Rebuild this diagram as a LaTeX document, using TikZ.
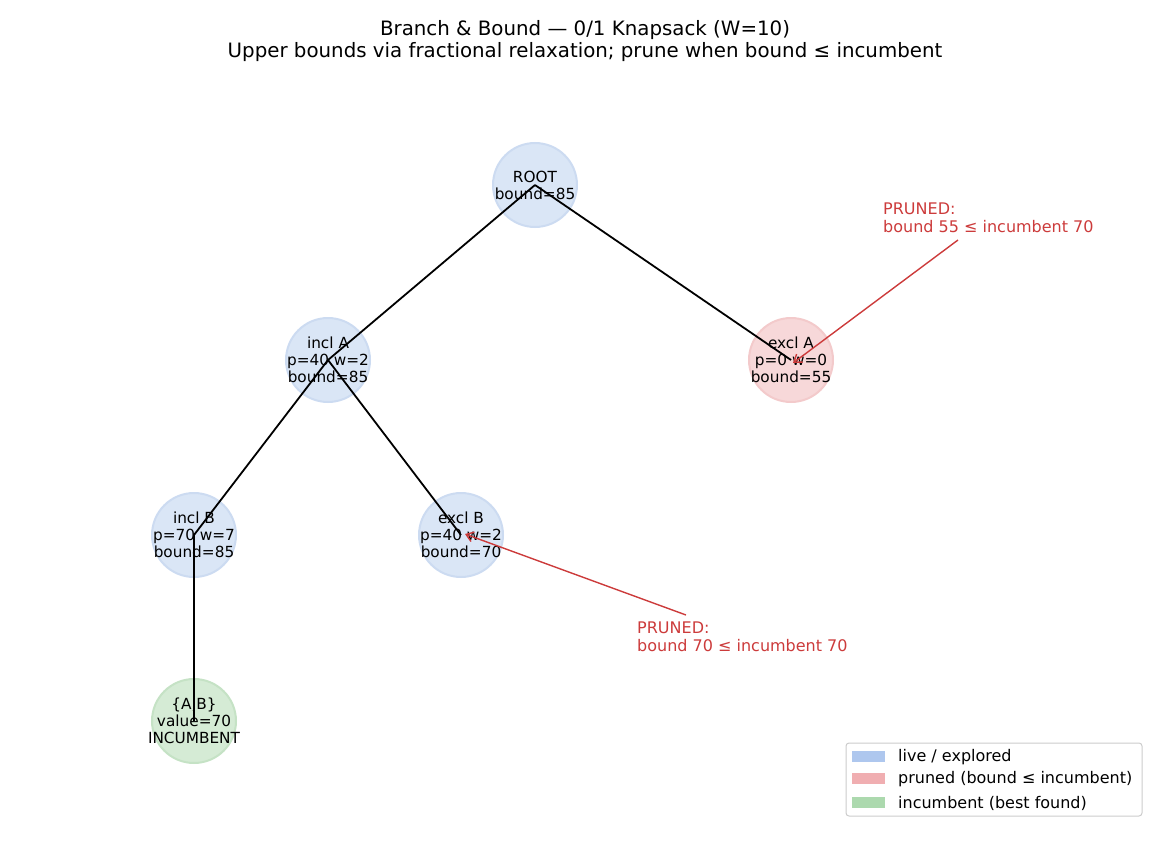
\documentclass[tikz,border=0pt]{standalone}
\usepackage{fontspec}
\setmainfont{DejaVu Sans}
\usepackage{xcolor}
\usepackage{tikz}
\usetikzlibrary{arrows.meta}

\definecolor{livefill}{HTML}{DAE6F6}
\definecolor{livedraw}{HTML}{CCDBF1}
\definecolor{prunedfill}{HTML}{F7D8D9}
\definecolor{pruneddraw}{HTML}{F3CACB}
\definecolor{bestfill}{HTML}{D5EBD5}
\definecolor{bestdraw}{HTML}{C5E2C5}
\definecolor{livepatch}{HTML}{AEC7EE}
\definecolor{prunedpatch}{HTML}{F0AEB1}
\definecolor{bestpatch}{HTML}{ACD9AE}
\definecolor{notered}{HTML}{CC3B3B}

\begin{document}
\begin{tikzpicture}[x=1bp, y=-1bp,
  treenode/.style={circle, minimum size=84bp, inner sep=0pt, line width=2bp},
  nodetext/.style={align=center, inner sep=0pt, font=\fontsize{15.3bp}{17bp}\selectfont},
  live/.style={treenode, fill=livefill, draw=livedraw},
  pruned/.style={treenode, fill=prunedfill, draw=pruneddraw},
  best/.style={treenode, fill=bestfill, draw=bestdraw},
  edge/.style={line width=1.8bp, black},
  note/.style={text=notered, align=left, anchor=north west, inner sep=0pt, font=\fontsize{16bp}{18bp}\selectfont},
  notearrow/.style={notered, line width=1.4bp, -{Straight Barb[length=7bp, width=10bp]}},
  patch/.style={minimum width=33bp, minimum height=11bp, inner sep=0pt},
  legendtext/.style={anchor=west, inner sep=0pt, font=\fontsize{16bp}{18bp}\selectfont}
]
\useasboundingbox (0,0) rectangle (1170,845);

\node[align=center, font=\fontsize{19.8bp}{22bp}\selectfont] (title) at (585,41) {Branch \& Bound — 0/1 Knapsack (W=10)\\Upper bounds via fractional relaxation; prune when bound ≤ incumbent};

% tree nodes: fixed circles, text set as centred labels
\node[live, label={[nodetext]center:ROOT\\bound=85}] (root) at (535,185) {};
\node[live, label={[nodetext]center:incl A\\p=40 w=2\\bound=85}] (inclA) at (328,360) {};
\node[pruned, label={[nodetext]center:excl A\\p=0 w=0\\bound=55}] (exclA) at (791,360) {};
\node[live, label={[nodetext]center:incl B\\p=70 w=7\\bound=85}] (inclB) at (194,535) {};
\node[live, label={[nodetext]center:excl B\\p=40 w=2\\bound=70}] (exclB) at (461,535) {};
\node[best, label={[nodetext]center:\{A,B\}\\value=70\\INCUMBENT}] (found) at (194,721) {};

\draw[edge] (root.center) -- (inclA.center);
\draw[edge] (root.center) -- (exclA.center);
\draw[edge] (inclA.center) -- (inclB.center);
\draw[edge] (inclA.center) -- (exclB.center);
\draw[edge] (inclB.center) -- (found.center);

\node[note] (noteA) at (883,203) {PRUNED:\\bound 55 ≤ incumbent 70};
\node[note] (noteB) at (637,622) {PRUNED:\\bound 70 ≤ incumbent 70};
\coordinate (tailA) at (958,240);
\coordinate (tailB) at (686,615);
\draw[notearrow] (tailA) -- ([xshift=2bp,yshift=-3bp]exclA.center);
\draw[notearrow] (tailB) -- ([xshift=4bp,yshift=1bp]exclB.center);

\node[draw=black!20, fill=white, rounded corners=3bp, line width=1bp, minimum width=296bp, minimum height=73bp, inner sep=0pt] (legend) at (994,779.5) {};
\node[patch, fill=livepatch] (keyLive) at (868.5,756) {};
\node[patch, fill=prunedpatch] (keyPruned) at (868.5,778.5) {};
\node[patch, fill=bestpatch] (keyBest) at (868.5,802.5) {};
\node[legendtext] at (898,757) {live / explored};
\node[legendtext] at (898,779.5) {pruned (bound ≤ incumbent)};
\node[legendtext] at (898,803) {incumbent (best found)};
\end{tikzpicture}
\end{document}
